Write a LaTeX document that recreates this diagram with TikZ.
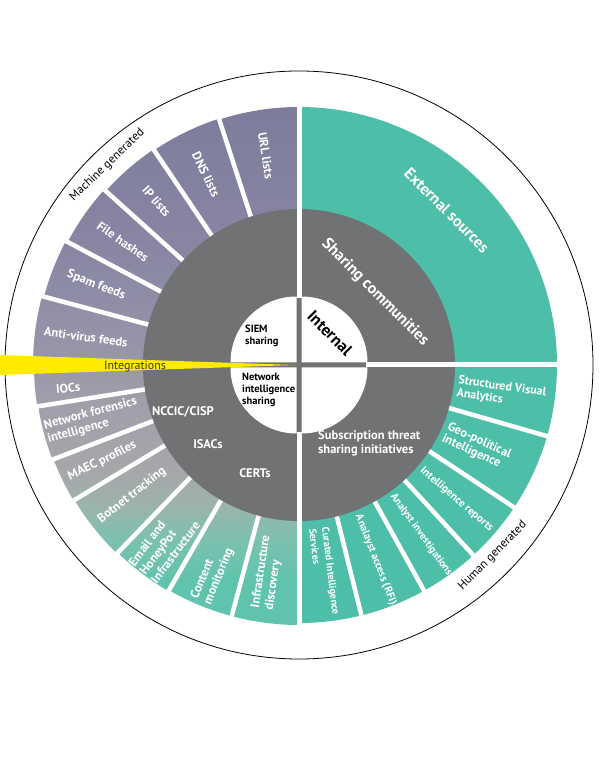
\documentclass[tikz,border=0pt]{standalone}
\usepackage{fontspec}
\setmainfont{PT Sans}
\definecolor{ringgray}{HTML}{707273}
\definecolor{tealseg}{HTML}{4DBFA8}
\definecolor{yellowseg}{HTML}{FFEB00}
\definecolor{integtext}{HTML}{3A3A3A}
\definecolor{grad1}{HTML}{60C3AD}
\definecolor{grad2}{HTML}{7CC1AF}
\definecolor{grad3}{HTML}{9CB3AC}
\definecolor{grad4}{HTML}{A7A7AA}
\definecolor{grad5}{HTML}{A2A1AB}
\definecolor{grad6}{HTML}{9594A8}
\definecolor{grad7}{HTML}{8886A3}
\definecolor{grad8}{HTML}{7E7C9C}
\pgfdeclareverticalshading{leftring}{100bp}{color(0bp)=(grad1); color(29.7bp)=(grad1); color(33.5bp)=(grad2); color(36.8bp)=(grad3); color(40.1bp)=(grad4); color(44.8bp)=(grad5); color(52.4bp)=(grad6); color(60.8bp)=(grad7); color(74.5bp)=(grad8); color(100bp)=(grad8)}
\tikzset{
  wheel/.style={x=1pt, y=1pt},
  seglabel/.style={text=white, font={\bfseries\fontsize{12.5}{14}\selectfont}, align=left, inner sep=0pt},
  ring label/.style={text=white, font={\bfseries\fontsize{12.5}{14}\selectfont}, align=left, inner sep=0pt},
  big label/.style={text=white, font={\bfseries\fontsize{16}{18}\selectfont}, inner sep=0pt},
  core label/.style={text=black, font={\bfseries\fontsize{10.5}{12}\selectfont}, align=left, inner sep=0pt},
  arc label/.style={text=black, font={\fontsize{12}{13}\selectfont}, inner sep=0pt},
  gapline/.style={white, line width=4.5pt},
}

\begin{document}
\begin{tikzpicture}[wheel]
  \useasboundingbox (-299,-411) rectangle (301,365);
  \draw[black, line width=0.8pt] (0,0) circle[radius=294];

  % human generated side
  \fill[tealseg] (0,0) -- (0:258) arc[start angle=0, end angle=90, radius=258] -- cycle;
  \fill[tealseg] (0,0) -- (-90:258) arc[start angle=-90, end angle=0, radius=258] -- cycle;

  % machine generated side
  \begin{scope}
    \clip \foreach \a/\b/\r in {90/108/258, 108/124/259, 124/138/260, 138/152/262,
        152/165/264, 165/180/266, 180/189/265, 189/201/264, 201/211/263,
        211/226/262, 226/240/261, 240/255/260, 255/270/260}
        { (0,0) -- (\a:\r) arc[start angle=\a, end angle=\b, radius=\r] -- cycle };
    \shade[shading=leftring] (-300,-265) rectangle (0,265);
  \end{scope}

  \foreach \a in {108,124,138,152,165,189,201,211,226,240,255,-16,-33.5,-47.5,-61,-76}
    \draw[gapline] (\a:150) -- (\a:280);

  \fill[ringgray] (0,0) circle[radius=156];
  \draw[gapline, line width=5pt] (0,60) -- (0,280);
  \draw[gapline, line width=5pt] (0,-60) -- (0,-280);
  \draw[gapline, line width=5pt] (60,0) -- (280,0);

  \fill[ringgray] (0,0) circle[radius=67];
  \fill[yellowseg] (-4,0) -- (-300,10) -- (-300,-10) -- cycle;
  \foreach \q/\sx/\sy in {0/1/1, 90/-1/1, 180/-1/-1, 270/1/-1}
    \fill[white, shift={(\sx*2.5,\sy*2.5)}] (0,0) -- (\q:66) arc[start angle=\q, delta angle=90, radius=66] -- cycle;

  % outer ring labels
  \foreach \m/\r/\n/\t in {99/212/url/{URL lists}, 116/212/dns/{DNS lists},
      131/217/ip/{IP lists}, 145/215/hash/{File hashes}, 158.5/218/spam/{Spam feeds},
      172.5/215/av/{Anti-virus feeds}, 185.7/232/ioc/{IOCs},
      195/214/netfor/{Network forensics\\intelligence}, 206/219/maec/{MAEC profiles},
      218/212/botnet/{Botnet tracking}, 233/224/email/{Email and\\HoneyPot\\Infrastructure},
      247.5/226/content/{Content\\monitoring}, 261.5/210/infra/{Infrastructure\\discovery}}
    \node[seglabel, rotate=\m-180] (\n) at (\m:\r) {\t};

  \foreach \m/\r/\s/\n/\t in {-8/160/12/sva/{Structured Visual\\Analytics},
      -24.75/161/12.5/geo/{Geo-political\\intelligence}, -40.5/161/11/intrep/{Intelligence reports},
      -54.25/160/10.4/anainv/{Analyst investigations}, -68.5/161/10.8/rfi/{Analayst access (RFI)},
      -83/164/10.2/curated/{Curated Intelligence\\Services}}
    \node[seglabel, font={\bfseries\fontsize{\s}{13}\selectfont}, anchor=west, rotate=\m] (\n) at (\m:\r) {\t};

  \node[big label, rotate=-45] (external) at (46.3:214) {External sources};
  \node[big label, rotate=-45] (sharing) at (43.5:105) {Sharing communities};
  \node[big label, text=black, font={\bfseries\fontsize{16.5}{18}\selectfont}, rotate=-45] (internal) at (46:44.5) {Internal};

  % sharing ring
  \node[ring label] (nccic) at (-116,-47) {NCCIC/CISP};
  \node[ring label] (isacs) at (-91,-79) {ISACs};
  \node[ring label] (certs) at (-44,-108) {CERTs};
  \node[ring label, anchor=west] (subscr) at (19,-78.5) {Subscription threat\\sharing initiatives};

  \node[core label, anchor=west] (siem) at (-54,29) {SIEM\\sharing};
  \node[core label, anchor=west] (netint) at (-57,-25) {Network\\intelligence\\sharing};

  \node[inner sep=0pt, text=integtext, font={\fontsize{12}{13}\selectfont}] (integ) at (-164,-2) {Integrations};

  \node[arc label, rotate=43.8] (machine) at (133.8:277) {Machine generated};
  \node[arc label, rotate=45.4] (human) at (-44.6:272) {Human generated};
\end{tikzpicture}
\end{document}
